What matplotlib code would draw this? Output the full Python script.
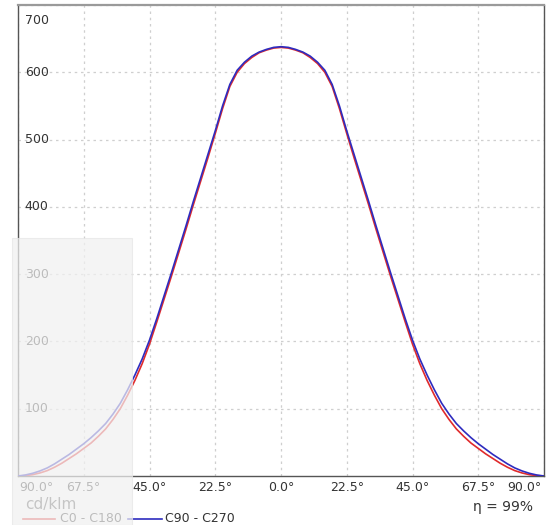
import matplotlib
matplotlib.use("Agg")
import matplotlib.pyplot as plt
import numpy as np
from matplotlib.patches import Rectangle
from matplotlib.lines import Line2D

# gamma angles, 2.5 degree steps from -90 to 90
angles = np.linspace(-90, 90, 73)
c0_c180 = [0, 0.5, 2, 4.5, 8, 13, 19, 26, 33, 41, 49, 59, 70, 84, 100, 120, 142, 167, 196, 229,
           263, 297, 332, 367, 403, 438, 473, 509, 546, 579, 600, 613, 622, 629, 633, 636,
           637,
           636, 633, 629, 622, 613, 600, 579, 546, 509, 473, 438, 403, 367, 332, 297, 263, 229,
           196, 167, 142, 120, 100, 84, 70, 59, 49, 41, 33, 26, 19, 13, 8, 4.5, 2, 0.5, 0]
c90_c270 = [0, 1.5, 4, 7.5, 12, 18, 25, 32, 40, 48, 57, 67, 78, 92, 108, 128, 150, 174, 202, 234,
            268, 302, 337, 372, 408, 443, 478, 513, 550, 582, 603, 615, 624, 630, 634, 637,
            638,
            637, 634, 630, 624, 615, 603, 582, 550, 513, 478, 443, 408, 372, 337, 302, 268, 234,
            202, 174, 150, 128, 108, 92, 78, 67, 57, 48, 40, 32, 25, 18, 12, 7.5, 4, 1.5, 0]

x_ticks = [-90, -67.5, -45, -22.5, 0, 22.5, 45, 67.5, 90]
x_labels = ["90.0°", "67.5°", "45.0°", "22.5°", "0.0°", "22.5°", "45.0°", "67.5°", "90.0°"]
y_ticks = [100, 200, 300, 400, 500, 600, 700]
y_labels = ["100", "200", "300", "400", "500", "600", "700"]
series_names = ["C0 - C180", "C90 - C270"]
unit_label = "cd/klm"
eta_label = "η = 99%"

W, H = 549, 525
fig = plt.figure(figsize=(W / 100, H / 100), dpi=100)
ax = fig.add_axes([18 / W, 1 - 476 / H, (544 - 18) / W, (476 - 5) / H])

red = "#e02a2c"
blue = "#2e2cbf"
ax.plot(angles, c0_c180, color=red, lw=1.2, zorder=3)
ax.plot(angles, c90_c270, color=blue, lw=1.2, zorder=4)

ax.set_xlim(-90, 90)
ax.set_ylim(0, 700)
ax.set_xticks(x_ticks)
ax.set_yticks(y_ticks)
ax.grid(True, color="#cfcfcf", linestyle=(0, (2, 3)), lw=0.9)
ax.tick_params(length=0, labelbottom=False, labelleft=False)
for s in ax.spines.values():
    s.set_color("#555555")
    s.set_linewidth(1.0)
ax.spines["top"].set_color("#9a9a9a")
ax.spines["top"].set_linewidth(1.6)

txt = "#333333"
trans_y = ax.get_yaxis_transform()
for v, lab in zip(y_ticks, y_labels):
    if v == 700:
        ax.text(0.013, v - 13, lab, transform=trans_y, ha="left", va="top", fontsize=9, color=txt)
    else:
        ax.text(0.013, v, lab, transform=trans_y, ha="left", va="center", fontsize=9, color=txt)

trans_x = ax.get_xaxis_transform()
for i, (v, lab) in enumerate(zip(x_ticks, x_labels)):
    ha = "center"
    if i == 0:
        ha = "left"
        xp = v + 0.4
    elif i == len(x_ticks) - 1:
        ha = "right"
        xp = v - 0.9
    else:
        xp = v
    ax.text(xp, -0.024, lab, transform=trans_x, ha=ha, va="center", fontsize=9, color=txt)

fig.text(533 / W, 1 - 507 / H, eta_label, ha="right", va="center", fontsize=10, color=txt)
fig.text(25 / W, 1 - 505 / H, unit_label, ha="left", va="center", fontsize=11, color="#555555")

ly = 1 - 519 / H
fig.add_artist(Line2D([23 / W, 55 / W], [ly, ly], color=red, lw=1.2))
fig.text(60 / W, 1 - 519 / H, series_names[0], ha="left", va="center", fontsize=9, color=txt)
fig.add_artist(Line2D([128 / W, 162 / W], [ly, ly], color=blue, lw=1.2))
fig.text(165 / W, 1 - 519 / H, series_names[1], ha="left", va="center", fontsize=9, color=txt)

fig.add_artist(Rectangle((12 / W, 0), 120 / W, (525 - 238) / H, transform=fig.transFigure,
                         facecolor="#f1f1f1", edgecolor="#e6e6e6", lw=0.8, alpha=0.72, zorder=10))

fig.savefig("out.png", dpi=100)
